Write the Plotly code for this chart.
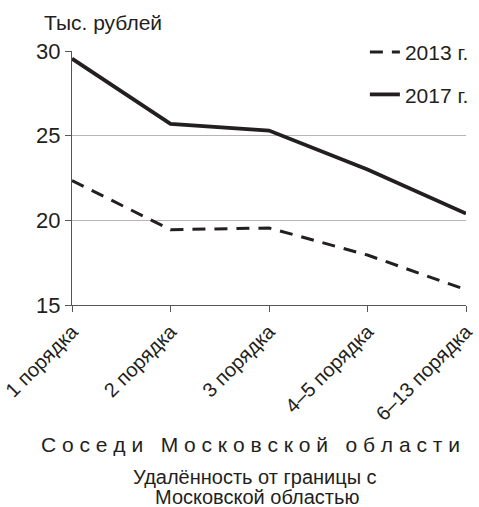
import plotly.graph_objects as go

categories = ["1 порядка", "2 порядка", "3 порядка", "4–5 порядка", "6–13 порядка"]
values_2013 = [22.35, 19.45, 19.55, 17.95, 15.9]
values_2017 = [29.55, 25.7, 25.3, 23.0, 20.4]
y_ticks = [15, 20, 25, 30]

FONT = "Liberation Sans, Arial, sans-serif"
INK = "#231f20"

fig = go.Figure()
fig.add_trace(go.Scatter(
    x=categories, y=values_2013, mode="lines", name="2013 г.",
    legendgroup="a",
    line=dict(color=INK, width=3, dash="13px,9px"),
))
fig.add_trace(go.Scatter(
    x=categories, y=values_2017, mode="lines", name="2017 г.",
    legendgroup="b",
    line=dict(color=INK, width=3.8),
))

fig.update_layout(
    width=479, height=507,
    margin=dict(l=72, r=13, t=51, b=202, autoexpand=False),
    paper_bgcolor="white", plot_bgcolor="white",
    font=dict(family=FONT, color=INK, size=21),
    showlegend=True,
    legend=dict(
        x=1.02, y=1.075, xanchor="right", yanchor="top",
        bgcolor="white", borderwidth=0,
        font=dict(size=21, family=FONT, color=INK),
        traceorder="grouped", tracegroupgap=12,
        itemwidth=30,
    ),
    xaxis=dict(
        type="category", range=[0, 4],
        showgrid=False, showline=True, linecolor="#555", linewidth=1.2,
        ticks="outside", ticklen=6, tickcolor="#555",
        tickangle=-45, tickfont=dict(size=20, family=FONT, color=INK),
        zeroline=False,
    ),
    yaxis=dict(
        range=[15, 30], tickvals=y_ticks,
        showgrid=True, gridcolor="#b5b5b5", gridwidth=1,
        showline=True, linecolor="#555", linewidth=1.2,
        ticks="outside", ticklen=6, tickcolor="#555",
        tickfont=dict(size=22, family=FONT, color=INK),
        zeroline=False,
    ),
    annotations=[
        dict(text="Тыс. рублей", xref="paper", yref="paper",
             x=-0.076, y=1.114, xanchor="left", yanchor="middle",
             showarrow=False, font=dict(size=21, family=FONT, color=INK)),
        dict(text=" ".join("Соседи") + "   " + " ".join("Московской") + "   " + " ".join("области"),
             xref="paper", yref="paper", x=0.452, y=-0.551,
             xanchor="center", yanchor="middle",
             showarrow=False, font=dict(size=21, family=FONT, color=INK)),
        dict(text="Удалённость от границы с",
             xref="paper", yref="paper", x=0.465, y=-0.677,
             xanchor="center", yanchor="middle",
             showarrow=False, font=dict(size=20, family=FONT, color=INK)),
        dict(text="Московской областью",
             xref="paper", yref="paper", x=0.47, y=-0.756,
             xanchor="center", yanchor="middle",
             showarrow=False, font=dict(size=20, family=FONT, color=INK)),
    ],
)

fig.write_html(
    "out.html",
    config={"displayModeBar": False},
    post_script="document.body.style.margin='0';document.body.style.padding='0';",
)
